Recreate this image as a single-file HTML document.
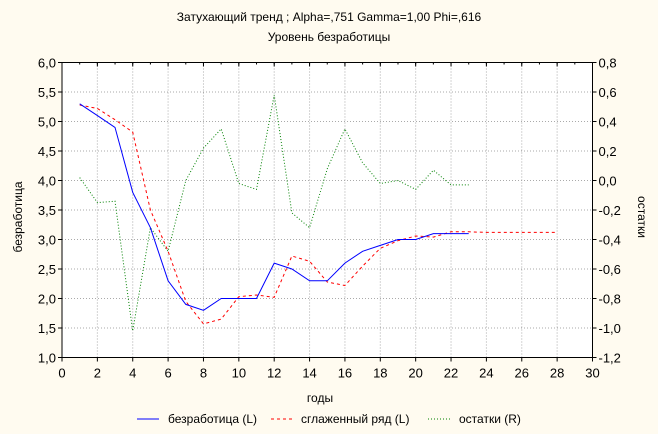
<!DOCTYPE html>
<html><head><meta charset="utf-8"><style>
html,body{margin:0;padding:0;background:#fffbf0;}
svg{display:block;font-family:"Liberation Sans","DejaVu Sans",sans-serif;}
</style></head><body>
<svg id="s" width="658" height="434" viewBox="0 0 658 434" xmlns="http://www.w3.org/2000/svg">
<rect width="658" height="434" fill="#fffbf0"/>
<text x="329" y="21" font-size="12" text-anchor="middle">Затухающий тренд ; Alpha=,751 Gamma=1,00 Phi=,616</text>
<text x="329" y="41" font-size="12" text-anchor="middle">Уровень безработицы</text>
<rect x="62" y="62.5" width="530.5" height="295" fill="#fff"/>
<g id="grid" stroke="#aaa" stroke-width="1" stroke-dasharray="1,2"></g>
<g id="ticks" stroke="#000" stroke-width="1"></g>
<g id="lbl" font-size="13" fill="#000"></g>
<rect x="62" y="62.5" width="530.5" height="295" fill="none" stroke="#000"/>
<g id="series" fill="none"></g>
<text x="320" y="402" font-size="12" text-anchor="middle">годы</text>
<text transform="translate(22,217) rotate(-90)" font-size="12" text-anchor="middle">безработица</text>
<text transform="translate(638,217) rotate(90)" font-size="12" text-anchor="middle">остатки</text>
<line x1="137" y1="419" x2="159" y2="419" stroke="#0000ff"/>
<text x="168" y="423" font-size="12">безработица (L)</text>
<line x1="271" y1="419" x2="292" y2="419" stroke="#ff0000" stroke-dasharray="3,3"/>
<text x="301" y="423" font-size="12">сглаженный ряд (L)</text>
<line x1="428" y1="419" x2="451" y2="419" stroke="#008000" stroke-dasharray="1,2"/>
<text x="459" y="423" font-size="12">остатки (R)</text>
</svg>
<script>
var NS="http://www.w3.org/2000/svg";
function el(p,t,a,txt){var e=document.createElementNS(NS,t);for(var k in a)e.setAttribute(k,a[k]);if(txt!=null)e.textContent=txt;document.getElementById(p).appendChild(e);}
var L=62,R=592.5,T=62.5,B=357.5;
function X(v){return L+v*(R-L)/30;}
function Y(v){return B-(v-1)*(B-T)/5;}
function YR(v){return B-(v+1.2)*(B-T)/2;}
for(var i=0;i<=15;i++){var x=X(2*i);
 if(i>0&&i<15)el('grid','line',{x1:x,y1:T,x2:x,y2:B});
 el('ticks','line',{x1:x,y1:B,x2:x,y2:B+4});
 el('ticks','line',{x1:x,y1:T,x2:x,y2:T+4});
 el('lbl','text',{x:x,y:B+20,'text-anchor':'middle'},String(2*i));}
for(var i=0;i<30;i++){var x=X(i+1);el('ticks','line',{x1:x,y1:T,x2:x,y2:T+2});}
for(var i=0;i<=10;i++){var v=1+i*0.5,y=Y(v);
 if(i>0&&i<10)el('grid','line',{x1:L,y1:y,x2:R,y2:y});
 el('ticks','line',{x1:L-4,y1:y,x2:L,y2:y});
 el('ticks','line',{x1:R,y1:y,x2:R+4,y2:y});
 el('lbl','text',{x:L-6,y:y+5,'text-anchor':'end'},v.toFixed(1).replace('.',','));
 var r=-1.2+i*0.2;if(Math.abs(r)<1e-9)r=0;
 el('lbl','text',{x:R+6,y:y+5},r.toFixed(1).replace('.',','));}
function pts(arr,f){return arr.map(function(v,i){return X(i+1).toFixed(1)+','+f(v).toFixed(1);}).join(' ');}
var blue=[5.3,5.1,4.9,3.8,3.2,2.3,1.9,1.8,2.0,2.0,2.0,2.6,2.5,2.3,2.3,2.6,2.8,2.9,3.0,3.0,3.1,3.1,3.1];
var red=[5.28,5.22,5.03,4.82,3.5,2.8,1.95,1.57,1.65,2.03,2.06,2.02,2.72,2.63,2.28,2.22,2.55,2.85,2.98,3.06,3.04,3.13,3.13,3.12,3.12,3.12,3.12,3.12];
var green=[0.02,-0.15,-0.14,-1.02,-0.32,-0.48,0.0,0.22,0.35,-0.02,-0.06,0.58,-0.22,-0.32,0.08,0.35,0.12,-0.02,0.0,-0.06,0.07,-0.03,-0.03];
el('series','polyline',{points:pts(green,YR),stroke:'#008000','stroke-dasharray':'1,2'});
el('series','polyline',{points:pts(red,Y),stroke:'#ff0000','stroke-dasharray':'3,3'});
el('series','polyline',{points:pts(blue,Y),stroke:'#0000ff'});
</script>
</body></html>
